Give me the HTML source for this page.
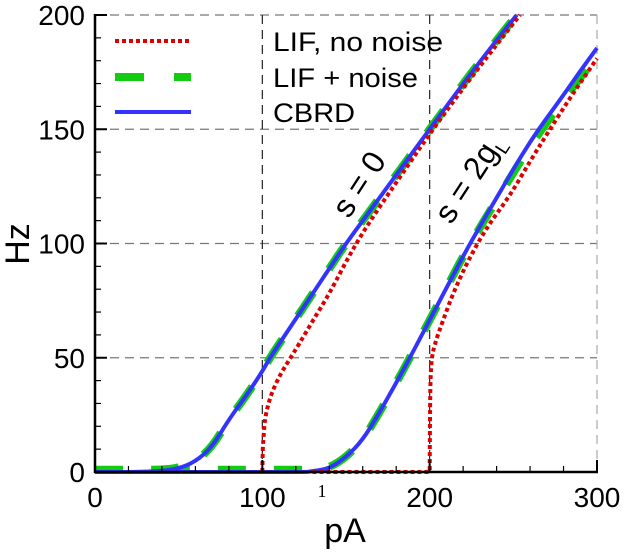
<!DOCTYPE html>
<html><head><meta charset="utf-8"><style>
html,body{margin:0;padding:0;background:#fff;}
svg{display:block;font-family:"Liberation Sans",Arial,sans-serif;}
</style></head><body>
<svg id="chart" width="625" height="556" viewBox="0 0 625 556">
<g id="grid"></g>
<g id="series"></g>
<g id="axes"></g>
<g id="legend"></g>
<text x="345" y="542" font-size="34" text-anchor="middle">pA</text>
<text transform="translate(29,244) rotate(-90)" font-size="34" text-anchor="middle">Hz</text>
<text transform="translate(368,190) rotate(-57)" font-size="32" text-anchor="middle">s = 0</text>
<text transform="translate(478,184) rotate(-57)" font-size="32" text-anchor="middle">s = 2g<tspan font-size="19" dy="7">L</tspan></text>
<text x="322" y="497" font-size="18" font-family="Liberation Serif,serif" text-anchor="middle">1</text>
</svg>
<script>
const xTicks=[0,100,200,300];
const yTicks=[0,50,100,150,200];
const s0CbrdX=[0,20,30,40,50,60,70,80,90,100,104.5,110,120,130,140,150,160,180,200,220,240,252];
const s0CbrdY=[0,0,0.1,0.5,1.5,4.5,11,23,33,44,50,56,67,78,89,100,110,130,150,170,189,200];
const s0NoiseX=[0,20,30,40,50,60,70,80,90,100,104.5,110,120,130,140,150,160,180,200,220,240,252];
const s0NoiseY=[1,1,1,1,1.8,4.5,11,23,33,44,50,56,67,78,89,100,110,130,150,170,189,200];
const s0LifX=[100,100.3,101,102,104,107,111,116,122,130,140,155,170,185,200,220,240,254];
const s0LifY=[0,10,19,25,31,37,43,49,56,66,78,99,116,132,148,168,187,200];
const s2CbrdX=[0,115,125,130,140,150,160,170,180,190,200,210,220,230,240,250,260,270,280,290,300];
const s2CbrdY=[0,0,0,0.3,1.5,6.5,14,26,39,52.5,66.5,80.5,94.5,107.5,120,132.5,144.5,155,165,175.5,185.5];
const s2NoiseX=[40,115,125,130,140,150,160,170,180,190,200,210,220,230,240,250,260,270,280,290,300];
const s2NoiseY=[1,1,1,1,1.8,6.5,14,26,39,52.5,66.5,80.5,94.5,107,119,131,142.5,153,163,172.5,182];
const s2LifX=[130,200,200.2,201,203,208,215,224,235,248,260,271,285,300];
const s2LifY=[0,0,35,49,56,66.5,80,94,108,121,136,149,165,181];

const NS='http://www.w3.org/2000/svg';
const X0=95,X1=597,Y0=472,Y1=15;
const sx=v=>X0+(v-0)/300*(X1-X0);
const sy=v=>Y0-(v-0)/200*(Y0-Y1);
function mk(tag,attrs,parent){const e=document.createElementNS(NS,tag);for(const k in attrs)e.setAttribute(k,attrs[k]);parent.appendChild(e);return e;}
const grid=document.getElementById('grid'),axes=document.getElementById('axes'),series=document.getElementById('series'),legend=document.getElementById('legend');

yTicks.forEach(t=>{if(t===0)return;
 const l=mk('line',{x1:X0,x2:X1,y1:sy(t),y2:sy(t),stroke:'#777','stroke-width':1.2,'stroke-dasharray':'9,6'},grid);
 
 
});
xTicks.forEach(t=>{if(t===0)return;
 const c=t===300?'#aaa':'#222';
 const l=mk('line',{x1:sx(t),x2:sx(t),y1:Y1,y2:Y0,stroke:c,'stroke-width':1.2,'stroke-dasharray':'9,6'},grid);
 
 
});

function path(xs,ys,attrs,name){
 const P=xs.map((x,i)=>[sx(x),sy(ys[i])]);
 const f=p=>p[0].toFixed(1)+','+p[1].toFixed(1);
 let d='M'+f(P[0])+'L'+f(P[1]);
 for(let i=2;i<P.length-1;i++){
  const m=[(P[i][0]+P[i+1][0])/2,(P[i][1]+P[i+1][1])/2];
  d+='Q'+f(P[i])+' '+f(m);
 }
 d+='L'+f(P[P.length-1]);
 const p=mk('path',Object.assign({d:d,fill:'none'},attrs),series);
 
 
}
const gA={stroke:'#11cc11','stroke-width':8,'stroke-dasharray':'28,28'};
const bA={stroke:'#3333ff','stroke-width':4,'stroke-linejoin':'round'};
const rA={stroke:'#dd0000','stroke-width':4,'stroke-dasharray':'4,3'};
path(s0NoiseX,s0NoiseY,gA,'s0-lif-noise-line');
path(s2NoiseX,s2NoiseY,gA,'s2gl-lif-noise-line');
path(s0CbrdX,s0CbrdY,bA,'s0-cbrd-line');
path(s2CbrdX,s2CbrdY,bA,'s2gl-cbrd-line');
path(s0LifX,s0LifY,rA,'s0-lif-no-noise-line');
path(s2LifX,s2LifY,rA,'s2gl-lif-no-noise-line');

let a=mk('line',{x1:X0,x2:X0,y1:Y1-1,y2:Y0+1,stroke:'#000','stroke-width':2.5},axes);


a=mk('line',{x1:X0-1,x2:X1+1,y1:Y0,y2:Y0,stroke:'#000','stroke-width':2.5},axes);


for(let v=0;v<=200;v+=10){const maj=v%50===0;
 const t=mk('line',{x1:X0,x2:X0+(maj?12:6),y1:sy(v),y2:sy(v),stroke:'#000','stroke-width':maj?2:1.2},axes);
 
 
}
for(let v=0;v<=300;v+=20){const maj=v%100===0;
 const t=mk('line',{x1:sx(v),x2:sx(v),y1:Y0,y2:Y0-(maj?12:6),stroke:'#000','stroke-width':maj?2:1.2},axes);
 
 
}
yTicks.forEach(t=>{
 const e=mk('text',{x:X0-10,y:sy(t)+10,'font-size':28,'text-anchor':'end'},axes);e.textContent=t;
 
 
});
xTicks.forEach(t=>{
 const e=mk('text',{x:sx(t),y:507,'font-size':28,'text-anchor':'middle'},axes);e.textContent=t;
 
 
});
const leg=[['LIF, no noise',rA,41,170],['LIF + noise',gA,77,145],['CBRD',bA,112,82]];
leg.forEach(([lab,at,y,w])=>{
 const l=mk('line',Object.assign({x1:115,x2:191,y1:y,y2:y},at),legend);
 if(at===gA)l.setAttribute('stroke-dasharray','29,30');
 
 
 const t=mk('text',{x:273,y:y+10,'font-size':27,textLength:w,lengthAdjust:'spacingAndGlyphs'},legend);t.textContent=lab;
 
 
});
</script>
</body></html>
